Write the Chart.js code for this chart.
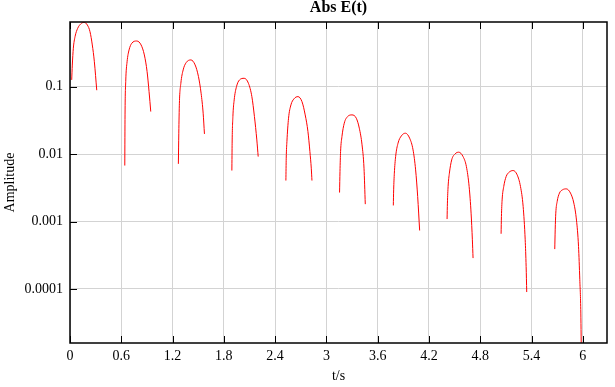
<!DOCTYPE html>
<html>
<head>
<meta charset="utf-8">
<script src="https://cdn.jsdelivr.net/npm/chart.js@4"></script>
<style>
  html, body { margin: 0; padding: 0; background: #fff; }
</style>
</head>
<body>
<canvas id="c" width="615" height="387"></canvas>
<script>
// sample times (s); null amplitude breaks the curve between the arches
const times = [
  0.020, 0.027, 0.039, 0.059, 0.090, 0.125, 0.164, 0.203, 0.234, 0.261, 0.285, 0.313, 0.48,
  0.641, 0.644, 0.652, 0.668, 0.691, 0.723, 0.781, 0.832, 0.870, 0.902, 0.925, 0.945, 1.10,
  1.268, 1.273, 1.280, 1.297, 1.324, 1.359, 1.414, 1.464, 1.503, 1.534, 1.558, 1.573, 1.73,
  1.894, 1.897, 1.906, 1.921, 1.948, 1.983, 2.038, 2.088, 2.128, 2.158, 2.186, 2.202, 2.36,
  2.526, 2.530, 2.538, 2.557, 2.585, 2.620, 2.667, 2.714, 2.752, 2.784, 2.807, 2.823, 2.831, 3.0,
  3.154, 3.159, 3.166, 3.182, 3.209, 3.248, 3.299, 3.350, 3.385, 3.417, 3.440, 3.455, 3.62,
  3.783, 3.787, 3.795, 3.810, 3.838, 3.877, 3.924, 3.974, 4.014, 4.044, 4.068, 4.091, 4.25,
  4.412, 4.416, 4.424, 4.439, 4.466, 4.506, 4.548, 4.599, 4.638, 4.670, 4.693, 4.708, 4.716, 4.88,
  5.044, 5.048, 5.056, 5.075, 5.103, 5.138, 5.185, 5.232, 5.271, 5.302, 5.326, 5.337, 5.344, 5.51,
  5.672, 5.677, 5.684, 5.700, 5.727, 5.762, 5.806, 5.856, 5.895, 5.926, 5.950, 5.965, 5.977, 5.984
];
const amplitude = [
  0.126, 0.209, 0.371, 0.551, 0.733, 0.849, 0.899, 0.820, 0.653, 0.415, 0.234, 0.0885, null,
  0.00676, 0.0381, 0.1186, 0.234, 0.350, 0.440, 0.475, 0.415, 0.295, 0.167, 0.0844, 0.0427, null,
  0.00716, 0.0204, 0.0568, 0.112, 0.177, 0.227, 0.249, 0.210, 0.141, 0.0798, 0.0404, 0.0199, null,
  0.00570, 0.0145, 0.0360, 0.0636, 0.100, 0.1256, 0.133, 0.112, 0.0711, 0.0360, 0.0162, 0.00918, null,
  0.00405, 0.00869, 0.0153, 0.0340, 0.0536, 0.0658, 0.0711, 0.0600, 0.0381, 0.0216, 0.0109, 0.00618, 0.00405, null,
  0.00269, 0.00551, 0.0109, 0.0182, 0.0287, 0.0360, 0.0381, 0.0340, 0.0242, 0.0137, 0.00618, 0.00181, null,
  0.00173, 0.00295, 0.00521, 0.00919, 0.0145, 0.0186, 0.0204, 0.0172, 0.01153, 0.00583, 0.00234, 0.000736, null,
  0.001087, 0.001875, 0.00330, 0.00521, 0.00820, 0.01007, 0.01067, 0.00918, 0.00653, 0.00330, 0.00133, 0.000536, 0.000287, null,
  0.000658, 0.001186, 0.00209, 0.00330, 0.00464, 0.00539, 0.00570, 0.00492, 0.00330, 0.00167, 0.000536, 0.000215, 0.0000900, null,
  0.000390, 0.000753, 0.00133, 0.00198, 0.00264, 0.00295, 0.00305, 0.00264, 0.00188, 0.00105, 0.000427, 0.000137, 0.0000439, 0.000008
];
const xTicks = [0, 0.6, 1.2, 1.8, 2.4, 3, 3.6, 4.2, 4.8, 5.4, 6];
const yTicks = [0.0001, 0.001, 0.01, 0.1];

const serif = "'Liberation Serif', 'Times New Roman', serif";

// black box round the plot with short inward ticks
const frame = {
  id: "frame",
  afterDraw(chart) {
    const { ctx, chartArea: a, scales } = chart;
    ctx.save();
    ctx.strokeStyle = "#000";
    ctx.lineWidth = 1;
    ctx.beginPath();
    xTicks.forEach((v) => {
      const x = Math.round(scales.x.getPixelForValue(v)) + 0.5;
      ctx.moveTo(x, a.bottom);
      ctx.lineTo(x, a.bottom - 7);
      ctx.moveTo(x, a.top);
      ctx.lineTo(x, a.top + 7);
    });
    yTicks.forEach((v) => {
      const y = Math.round(scales.y.getPixelForValue(v)) + 0.5;
      ctx.moveTo(a.left, y);
      ctx.lineTo(a.left + 7, y);
    });
    ctx.stroke();
    ctx.lineWidth = 1.5;
    ctx.strokeRect(a.left, a.top, a.right - a.left, a.bottom - a.top);
    ctx.restore();
  },
};

new Chart(document.getElementById("c"), {
  type: "line",
  data: {
    datasets: [
      {
        data: times.map((t, i) => ({ x: t, y: amplitude[i] })),
        borderColor: "#ff0000",
        borderWidth: 1,
        pointRadius: 0,
        fill: false,
        spanGaps: false,
        cubicInterpolationMode: "monotone",
      },
    ],
  },
  options: {
    responsive: false,
    animation: false,
    devicePixelRatio: 1,
    layout: { padding: { top: 0, right: 8, bottom: 0, left: 0 } },
    plugins: {
      legend: { display: false },
      tooltip: { enabled: false },
      title: {
        display: true,
        text: "Abs E(t)",
        fullSize: false,
        color: "#000",
        font: { family: serif, size: 16, weight: "bold", lineHeight: 1 },
        padding: { top: 0, bottom: 6 },
      },
    },
    scales: {
      x: {
        type: "linear",
        min: 0,
        max: 6.2832,
        afterBuildTicks: (scale) => {
          scale.ticks = xTicks.map((v) => ({ value: v }));
        },
        afterFit: (scale) => {
          scale.height = 44;
        },
        ticks: {
          color: "#000",
          padding: 5,
          maxRotation: 0,
          font: { family: serif, size: 14 },
          callback: (v) => String(v),
        },
        grid: { color: "#d3d3d3", drawTicks: false },
        border: { display: false },
        title: {
          display: true,
          text: "t/s",
          color: "#000",
          font: { family: serif, size: 14 },
          padding: { top: 0, bottom: 2 },
        },
      },
      y: {
        type: "logarithmic",
        min: 0.0000158,
        max: 0.909,
        afterBuildTicks: (scale) => {
          scale.ticks = yTicks.map((v) => ({ value: v }));
        },
        afterFit: (scale) => {
          scale.width = 70;
        },
        ticks: {
          color: "#000",
          padding: 7,
          font: { family: serif, size: 14 },
          callback: (v) => String(v),
        },
        grid: { color: "#d3d3d3", drawTicks: false },
        border: { display: false },
        title: {
          display: true,
          text: "Amplitude",
          color: "#000",
          font: { family: serif, size: 14 },
          padding: { top: 2, bottom: 0 },
        },
      },
    },
  },
  plugins: [frame],
});
</script>
</body>
</html>
